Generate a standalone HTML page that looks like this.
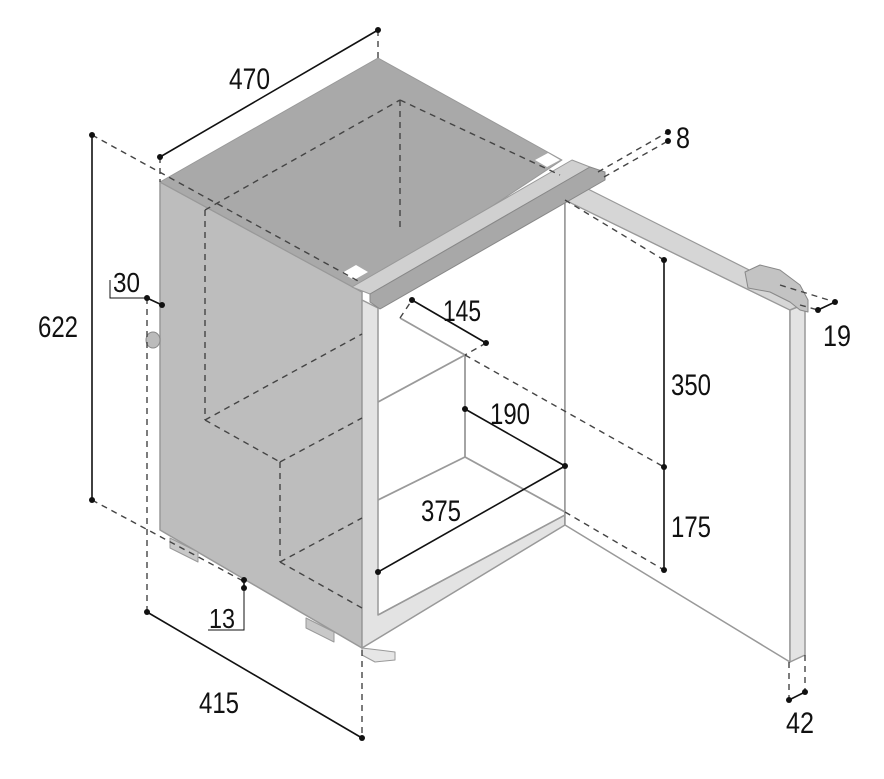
<!DOCTYPE html>
<html><head><meta charset="utf-8"><style>
html,body{margin:0;padding:0;background:#fff;}
svg{display:block}
text{font-family:"Liberation Sans",sans-serif;font-size:30px;fill:#111}
</style></head><body>
<svg width="884" height="779" viewBox="0 0 884 779" xmlns="http://www.w3.org/2000/svg">
<g stroke-linejoin="round">
<polygon points="160,182 362,292 362,648 160,530" fill="#bdbdbd" stroke="#999" stroke-width="1.5"/>
<polygon points="160,182 378,58 562,160 362,292" fill="#a9a9a9" stroke="#999" stroke-width="1"/>
<polygon points="342,273 356,265 368,272 354,280" fill="#fff"/>
<polygon points="535,160 548,153 560,160 547,167" fill="#fff"/>
<polygon points="170,538 198,552 198,562 170,548" fill="#c8c8c8" stroke="#999"/>
<polygon points="306,618 334,632 334,642 306,628" fill="#c8c8c8" stroke="#999"/>
<polygon points="362,648 395,652 395,660 375,662 362,655" fill="#e6e6e6" stroke="#999"/>
<ellipse cx="153" cy="340" rx="7" ry="8" fill="#bbb" stroke="#888"/>
<polygon points="362,300 378,308 378,615 565,515 565,525 362,648" fill="#e3e3e3" stroke="#999" stroke-width="1.5"/>
<line x1="378" y1="615" x2="565" y2="515" stroke="#999" stroke-width="1.5"/>
<g stroke="#9a9a9a" stroke-width="1.8" fill="none">
<line x1="465" y1="355" x2="465" y2="457"/>
<line x1="378" y1="402" x2="465" y2="355"/>
<line x1="378" y1="500" x2="465" y2="457"/>
<line x1="465" y1="457" x2="565" y2="512"/>
<line x1="400" y1="318" x2="465" y2="355"/>
<line x1="565" y1="200" x2="565" y2="525"/>
</g>
<!-- door -->
<polygon points="565,525 790,662 790,310 565,200" fill="#fff" stroke="#999" stroke-width="1.5"/>
<polygon points="578,184 805,298 805,310 790,310 565,200 575,192" fill="#d6d6d6" stroke="#999" stroke-width="1.2"/>
<polygon points="790,310 805,304 805,655 790,662" fill="#e3e3e3" stroke="#999" stroke-width="1.5"/>
<path d="M745,272 L760,265 L780,270 L800,285 L808,300 L808,312 L800,310 L790,302 L770,292 L748,288 Z" fill="#c3c3c3" stroke="#888"/>
<polygon points="352,287 572,160 590,167 370,294" fill="#d0d0d0" stroke="#999"/>
<polygon points="370,294 590,167 605,172 605,180 380,309 370,302" fill="#a8a8a8" stroke="#888"/>
</g>
<g stroke="#444" stroke-width="1.4" stroke-dasharray="6,5" fill="none">
<line x1="205" y1="210" x2="205" y2="420"/>
<line x1="205" y1="210" x2="400" y2="100"/>
<line x1="400" y1="100" x2="400" y2="232"/>
<line x1="400" y1="100" x2="560" y2="175"/>
<line x1="205" y1="420" x2="280" y2="462"/>
<line x1="205" y1="420" x2="362" y2="334"/>
<line x1="280" y1="462" x2="362" y2="418"/>
<line x1="280" y1="462" x2="280" y2="562"/>
<line x1="280" y1="562" x2="362" y2="518"/>
<line x1="280" y1="562" x2="362" y2="608"/>
<line x1="92" y1="135" x2="360" y2="282"/>
<line x1="92" y1="500" x2="245" y2="582"/>
<line x1="160" y1="157" x2="160" y2="182"/>
<line x1="378" y1="30" x2="378" y2="58"/>
<line x1="147" y1="298" x2="147" y2="612"/>
<line x1="362" y1="650" x2="362" y2="738"/>
<line x1="400" y1="318" x2="412" y2="300"/>
<line x1="486" y1="343" x2="465" y2="355"/>
<line x1="465" y1="355" x2="664" y2="467"/>
<line x1="565" y1="200" x2="664" y2="260"/>
<line x1="565" y1="512" x2="664" y2="570"/>
<line x1="598" y1="172" x2="668" y2="132"/>
<line x1="604" y1="177" x2="668" y2="141"/>
<line x1="780" y1="285" x2="835" y2="302"/>
<line x1="800" y1="305" x2="818" y2="310"/>
<line x1="789" y1="662" x2="789" y2="700"/>
<line x1="805" y1="655" x2="805" y2="692"/>
</g>
<g stroke="#111" stroke-width="1.6" fill="#111">
<line x1="160" y1="157" x2="378" y2="30"/>
<line x1="92" y1="135" x2="92" y2="500"/>
<line x1="147" y1="612" x2="362" y2="738"/>
<line x1="412" y1="300" x2="486" y2="343"/>
<line x1="465" y1="409" x2="565" y2="466"/>
<line x1="378" y1="572" x2="565" y2="466"/>
<line x1="664" y1="260" x2="664" y2="570"/>
<line x1="818" y1="310" x2="835" y2="302"/>
<line x1="789" y1="700" x2="805" y2="692"/>
<line x1="147" y1="298" x2="162" y2="305"/>
<line x1="244" y1="580" x2="244" y2="588"/>
<polyline points="110,280 110,298 147,298" fill="none" stroke-width="1"/>
<polyline points="208,630 244,630 244,588" fill="none" stroke-width="1"/>
<g stroke="none">
<circle cx="160" cy="157" r="3"/><circle cx="378" cy="30" r="3"/>
<circle cx="92" cy="135" r="3"/><circle cx="92" cy="500" r="3"/>
<circle cx="147" cy="612" r="3"/><circle cx="362" cy="738" r="3"/>
<circle cx="412" cy="300" r="3"/><circle cx="486" cy="343" r="3"/>
<circle cx="465" cy="409" r="3"/><circle cx="565" cy="466" r="3"/>
<circle cx="378" cy="572" r="3"/>
<circle cx="664" cy="260" r="3"/><circle cx="664" cy="467" r="3"/><circle cx="664" cy="570" r="3"/>
<circle cx="668" cy="132" r="3"/><circle cx="668" cy="141" r="3"/>
<circle cx="818" cy="310" r="3"/><circle cx="835" cy="302" r="3"/>
<circle cx="789" cy="700" r="3"/><circle cx="805" cy="692" r="3"/>
<circle cx="147" cy="298" r="3"/><circle cx="162" cy="305" r="3"/>
<circle cx="244" cy="580" r="3"/><circle cx="244" cy="588" r="3"/>
</g>
</g>
<g lengthAdjust="spacingAndGlyphs">
<text x="229" y="89" textLength="41" lengthAdjust="spacingAndGlyphs">470</text>
<text x="38" y="337" textLength="40" lengthAdjust="spacingAndGlyphs">622</text>
<text x="113" y="292" textLength="27" lengthAdjust="spacingAndGlyphs" style="font-size:28px">30</text>
<text x="209" y="628" textLength="26" lengthAdjust="spacingAndGlyphs" style="font-size:28px">13</text>
<text x="199" y="713" textLength="40" lengthAdjust="spacingAndGlyphs">415</text>
<text x="443" y="321" textLength="38" lengthAdjust="spacingAndGlyphs">145</text>
<text x="490" y="424" textLength="40" lengthAdjust="spacingAndGlyphs">190</text>
<text x="421" y="521" textLength="40" lengthAdjust="spacingAndGlyphs">375</text>
<text x="671" y="395" textLength="40" lengthAdjust="spacingAndGlyphs">350</text>
<text x="671" y="537" textLength="40" lengthAdjust="spacingAndGlyphs">175</text>
<text x="676" y="148" textLength="14" lengthAdjust="spacingAndGlyphs">8</text>
<text x="823" y="346" textLength="28" lengthAdjust="spacingAndGlyphs">19</text>
<text x="786" y="733" textLength="28" lengthAdjust="spacingAndGlyphs">42</text>
</g>
</svg>
</body></html>
